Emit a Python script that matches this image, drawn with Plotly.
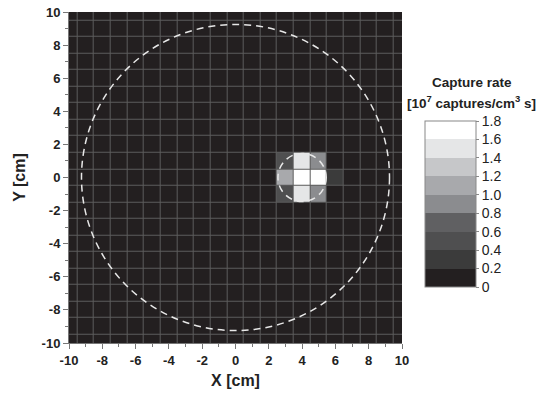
import plotly.graph_objects as go

# ---- data ----
x_cells = list(range(-10, 11))          # cell centres, cm
y_cells = list(range(-10, 11))
background_rate = 0.05                  # 10^7 captures/cm^3 s
hot_x = [3, 4, 5, 3, 4, 5, 6, 3, 4, 5]
hot_y = [1, 1, 1, 0, 0, 0, 0, -1, -1, -1]
hot_rate = [0.5, 1.5, 0.9, 1.1, 1.75, 1.75, 0.3, 0.5, 1.5, 0.9]

level_edges = [0, 0.2, 0.4, 0.6, 0.8, 1.0, 1.2, 1.4, 1.6, 1.8]
level_colors = ["#231f20", "#3b3b3b", "#4f4f50", "#606062", "#8b8c8f",
                "#a8a9ac", "#c6c7c9", "#e5e6e7", "#ffffff"]
tick_vals = [0, 0.2, 0.4, 0.6, 0.8, 1.0, 1.2, 1.4, 1.6, 1.8]
tick_text = ["0", "0.2", "0.4", "0.6", "0.8", "1.0", "1.2", "1.4", "1.6", "1.8"]
axis_ticks = [-10, -8, -6, -4, -2, 0, 2, 4, 6, 8, 10]
axis_ticktext = ["-10", "-8", "-6", "-4", "-2", "0", "2", "4", "6", "8", "10"]

phantom_center = (0, 0)
phantom_radius = 9.25
source_center = (4, 0)
source_radius = 1.45

# ---- build grid ----
z = [[background_rate for _ in x_cells] for _ in y_cells]
for xv, yv, rv in zip(hot_x, hot_y, hot_rate):
    z[y_cells.index(yv)][x_cells.index(xv)] = rv

zmin, zmax = level_edges[0], level_edges[-1]
colorscale = []
for i, c in enumerate(level_colors):
    colorscale.append([(level_edges[i] - zmin) / (zmax - zmin), c])
    colorscale.append([(level_edges[i + 1] - zmin) / (zmax - zmin), c])

fig = go.Figure()
fig.add_trace(go.Heatmap(
    x=x_cells, y=y_cells, z=z,
    zmin=zmin, zmax=zmax, colorscale=colorscale,
    xgap=1, ygap=1,
    colorbar=dict(
        x=1.069, xanchor="left", xref="paper", xpad=0, ypad=0,
        y=1.0 - (204 - 12) / 331, yanchor="middle",
        lenmode="pixels", len=166, thickness=51,
        outlinecolor="#888888", outlinewidth=1,
        tickvals=tick_vals, ticktext=tick_text,
        ticks="outside", ticklen=3, tickcolor="#888888",
        tickfont=dict(family="Liberation Sans, Arial, sans-serif", size=14, color="#222222"),
        title=dict(text=""),
    ),
    hoverinfo="skip",
))

circ_style = dict(type="circle", xref="x", yref="y",
                  line=dict(color="#e8e8e8", width=1.5, dash="7px,5px"))
fig.add_shape(x0=phantom_center[0] - phantom_radius, x1=phantom_center[0] + phantom_radius,
              y0=phantom_center[1] - phantom_radius, y1=phantom_center[1] + phantom_radius,
              **circ_style)
fig.add_shape(x0=source_center[0] - source_radius, x1=source_center[0] + source_radius,
              y0=source_center[1] - source_radius, y1=source_center[1] + source_radius,
              **circ_style)

font_b = "Liberation Sans, Arial, sans-serif"
axis_common = dict(
    range=[-10, 10], tickmode="array",
    tickvals=axis_ticks, ticktext=axis_ticktext,
    ticks="outside", ticklen=5, tickcolor="#777777", tickwidth=1,
    minor=dict(tickvals=list(range(-9, 10, 2)), ticks="outside", ticklen=3,
               tickcolor="#777777", showgrid=False),
    showgrid=False, zeroline=False, automargin=False,
    showline=True, linecolor="#777777", linewidth=1,
    tickfont=dict(family=font_b, size=13, color="#222222", weight="bold"),
    title_font=dict(family=font_b, size=16, color="#222222", weight="bold"),
)
fig.update_xaxes(**axis_common, title_text="X [cm]", title_standoff=8)
fig.update_yaxes(**axis_common, title_text="Y [cm]", title_standoff=12)

fig.add_annotation(xref="paper", yref="paper", x=1.21, y=1.0 - (82 - 12) / 331,
                   text="<b>Capture rate</b>", showarrow=False,
                   font=dict(family=font_b, size=13.5, color="#222222"),
                   xanchor="center", yanchor="middle")
fig.add_annotation(xref="paper", yref="paper", x=1.21, y=1.0 - (102 - 12) / 331,
                   text="<b>[10<sup>7</sup> captures/cm<sup>3</sup> s]</b>", showarrow=False,
                   font=dict(family=font_b, size=13.5, color="#222222"),
                   xanchor="center", yanchor="middle")

fig.update_layout(
    width=542, height=399,
    margin=dict(l=69, r=140, t=12, b=56),
    paper_bgcolor="white", plot_bgcolor="#5c5c5c",
    showlegend=False,
)
fig.write_html("out.html")
